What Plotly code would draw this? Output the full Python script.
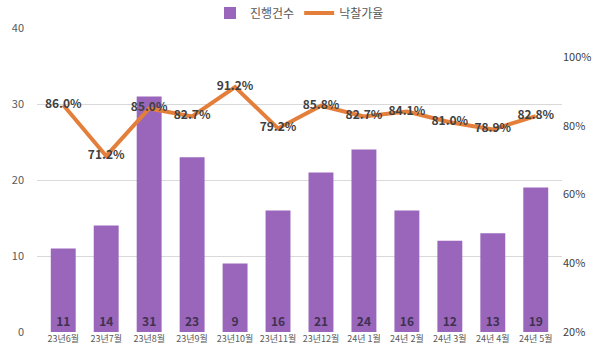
import plotly.graph_objects as go

categories = ["23년6월", "23년7월", "23년8월", "23년9월", "23년10월", "23년11월",
              "23년12월", "24년 1월", "24년 2월", "24년 3월", "24년 4월", "24년 5월"]
counts = [11, 14, 31, 23, 9, 16, 21, 24, 16, 12, 13, 19]
rates = [86.0, 71.2, 85.0, 82.7, 91.2, 79.2, 85.8, 82.7, 84.1, 81.0, 78.9, 82.8]
left_ticks = [0, 10, 20, 30, 40]
right_ticks = [20, 40, 60, 80, 100]

FONT = "Noto Sans CJK KR"

fig = go.Figure()
fig.add_trace(go.Bar(
    x=categories, y=counts, name="진행건수",
    marker=dict(color="#9966BB", line=dict(width=0)),
    text=[str(v) for v in counts], textposition="inside",
    insidetextanchor="start", textangle=0,
    textfont=dict(family=FONT, size=12, color="#403152", weight="bold"),
    width=0.58, yaxis="y",
))
fig.add_trace(go.Scatter(
    x=categories, y=rates, name="낙찰가율", mode="lines+text",
    line=dict(color="#E47F3B", width=4),
    text=[f"{v:.1f}%" for v in rates], textposition="middle center",
    textfont=dict(family=FONT, size=12, color="#404040", weight="bold"),
    yaxis="y2",
))

fig.update_layout(
    width=600, height=362,
    margin=dict(l=37, r=38, t=28, b=30, autoexpand=False),
    paper_bgcolor="white", plot_bgcolor="white",
    font=dict(family=FONT, color="#595959"),
    showlegend=True,
    legend=dict(orientation="h", x=0.5, xanchor="center", y=1.049, yanchor="middle",
                font=dict(size=12, color="#595959"), itemwidth=30,
                traceorder="normal", tracegroupgap=0),
    xaxis=dict(showgrid=False, showline=False, tickfont=dict(size=9, color="#595959"),
               ticks="", tickangle=0, automargin=False),
    yaxis=dict(range=[0, 40], tickvals=left_ticks, showgrid=True, gridcolor="#D9D9D9",
               gridwidth=1, zeroline=False, showline=False, automargin=False,
               tickfont=dict(size=11, color="#595959"), ticks="", ticklabelstandoff=12),
    yaxis2=dict(range=[20, 108.4], tickvals=right_ticks, automargin=False,
                ticktext=[f"{v}%" for v in right_ticks], overlaying="y", side="right",
                showgrid=False, zeroline=False, showline=False,
                tickfont=dict(size=11, color="#404040"), ticks=""),
    bargap=0.42,
)

fig.write_html("out.html", config={"displayModeBar": False},
               post_script="document.body.style.margin='0';")
